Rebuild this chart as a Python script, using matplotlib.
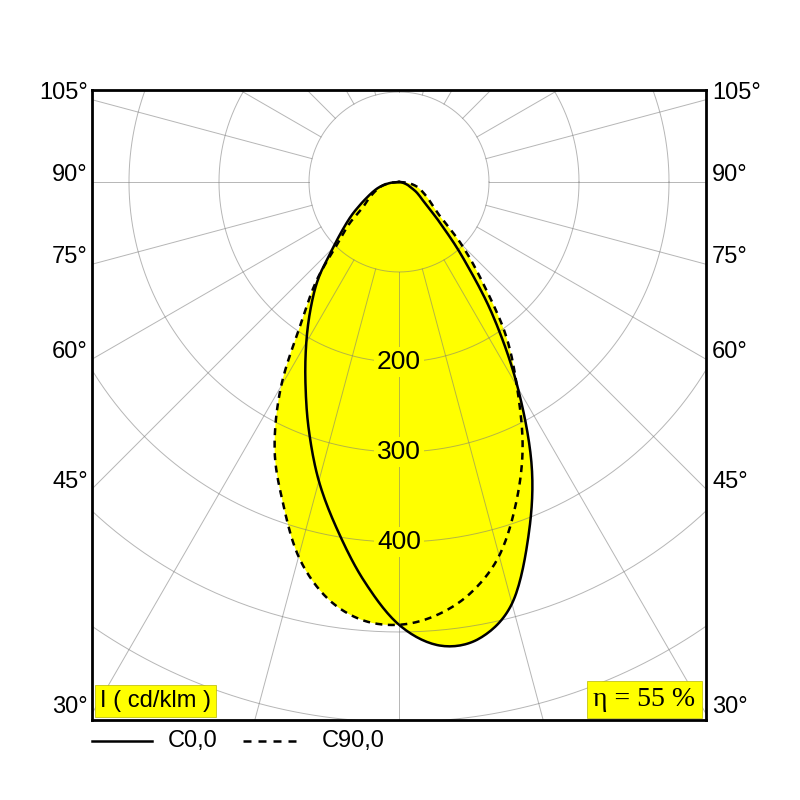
import numpy as np
from matplotlib import pyplot as plt
from matplotlib.lines import Line2D
from matplotlib.transforms import blended_transform_factory

# Luminous intensity (cd/klm) against gamma angle from nadir
gamma = [0, 5, 10, 15, 20, 25, 30, 35, 40, 45, 50, 55, 60, 65, 70, 75, 80, 85, 90]
c0 = [492, 517, 515, 485, 420, 349, 264, 183, 112, 65, 39, 29, 22, 15, 11, 7, 4, 2, 0]
c180 = [492, 445, 393, 344, 293, 246, 206, 171, 139, 104, 81, 64, 49, 38, 30, 23, 15, 8, 0]
c90 = [492, 483, 463, 430, 380, 325, 262, 206, 143, 98, 60, 46, 38, 31, 26, 21, 15, 8, 0]
c270 = [492, 488, 468, 431, 378, 327, 262, 188, 142, 96, 72, 49, 40, 33, 27, 22, 16, 9, 0]

ring_values = [100, 200, 300, 400, 500, 600, 700]
ring_labels = [200, 300, 400]
side_angles = [105, 90, 75, 60, 45, 30]
efficiency = 55

YELLOW = '#ffff00'
SANS = 'Liberation Sans'
SERIF = 'Liberation Serif'


def catmull_rom(x, y, n=16):
    # smooth line through the measured vertices, the way the drawing software renders it
    P = np.column_stack([x, y])
    P = np.vstack([P[0], P, P[-1]])
    out = []
    for i in range(1, len(P) - 2):
        p0, p1, p2, p3 = P[i - 1], P[i], P[i + 1], P[i + 2]
        for s in np.linspace(0, 1, n, endpoint=False):
            out.append(0.5 * (2 * p1 + (-p0 + p2) * s + (2 * p0 - 5 * p1 + 4 * p2 - p3) * s ** 2
                              + (-p0 + 3 * p1 - 3 * p2 + p3) * s ** 3))
    out.append(P[-2])
    out = np.array(out)
    return out[:, 0], out[:, 1]


def polar_outline(left, right):
    # left half plane from 90 deg down to nadir, then right half plane back up
    rad = np.radians(gamma)
    left = np.asarray(left, float)
    right = np.asarray(right, float)
    x = np.concatenate([-(left * np.sin(rad))[::-1], (right * np.sin(rad))[1:]])
    y = np.concatenate([-(left * np.cos(rad))[::-1], -(right * np.cos(rad))[1:]])
    return catmull_rom(x, y)


fig = plt.figure(figsize=(8, 8), dpi=100)
ax = fig.add_axes([92 / 800, 80 / 800, 614 / 800, 630 / 800])
half_w = 341.1
ax.set_xlim(-half_w, half_w)
ax.set_ylim(-597.8, 102.2)
ax.set_xticks([])
ax.set_yticks([])
for sp in ax.spines.values():
    sp.set_linewidth(2.0)
    sp.set_zorder(10)

# yellow area is the union of both planes
x_sol, y_sol = polar_outline(c180, c0)
x_dash, y_dash = polar_outline(c270, c90)
ax.fill(x_sol, y_sol, color=YELLOW, lw=0, zorder=1)
ax.fill(x_dash, y_dash, color=YELLOW, lw=0, zorder=1)

# polar grid: circles every 100 cd/klm, rays every 15 deg outside the first circle
t = np.linspace(0, 2 * np.pi, 721)
for rv in ring_values:
    ax.plot(rv * np.cos(t), rv * np.sin(t), color='#7a7a7a', alpha=0.55, lw=0.7, zorder=2)
for a in range(0, 360, 15):
    ar = np.radians(a)
    ax.plot([100 * np.sin(ar), 900 * np.sin(ar)], [-100 * np.cos(ar), -900 * np.cos(ar)],
            color='#7a7a7a', alpha=0.55, lw=0.7, zorder=2)

for rl in ring_labels:
    ax.text(0, -rl, str(rl), ha='center', va='center', fontsize=19, family=SANS, zorder=3,
            bbox=dict(boxstyle='square,pad=0.12', fc=YELLOW, ec='none'))

ax.plot(x_dash, y_dash, color='black', lw=1.8, linestyle=(0, (2.8, 2.2)), zorder=4)
ax.plot(x_sol, y_sol, color='black', lw=1.8, zorder=5)

# gamma labels where the rays meet the frame
trans = blended_transform_factory(ax.transAxes, ax.transData)
for a in side_angles:
    yy = -half_w / np.tan(np.radians(a)) + 8
    ax.text(-0.007, yy, f'{a}°', transform=trans, ha='right', va='center', fontsize=17, family=SANS)
    ax.text(1.010, yy, f'{a}°', transform=trans, ha='left', va='center', fontsize=17, family=SANS)

ax.text(0.013, 0.013, 'I ( cd/klm )', transform=ax.transAxes, ha='left', va='bottom', fontsize=17,
        family=SANS, zorder=6,
        bbox=dict(boxstyle='square,pad=0.2', fc=YELLOW, ec='#b8b800', lw=0.5))
ax.text(0.983, 0.013, f'η = {efficiency} %', transform=ax.transAxes, ha='right', va='bottom', fontsize=20,
        family=SERIF, zorder=6,
        bbox=dict(boxstyle='square,pad=0.22', fc=YELLOW, ec='#b8b800', lw=0.5))

# legend under the frame
ly = 1 - 741 / 800
fig.add_artist(Line2D([92 / 800, 152 / 800], [ly, ly], color='black', lw=1.8))
fig.text(168 / 800, ly, 'C0,0', ha='left', va='center', fontsize=17, family=SANS)
fig.add_artist(Line2D([243 / 800, 297 / 800], [ly, ly], color='black', lw=1.8, linestyle=(0, (3.2, 2.8))))
fig.text(322 / 800, ly, 'C90,0', ha='left', va='center', fontsize=17, family=SANS)

fig.savefig('out.png', dpi=100)
